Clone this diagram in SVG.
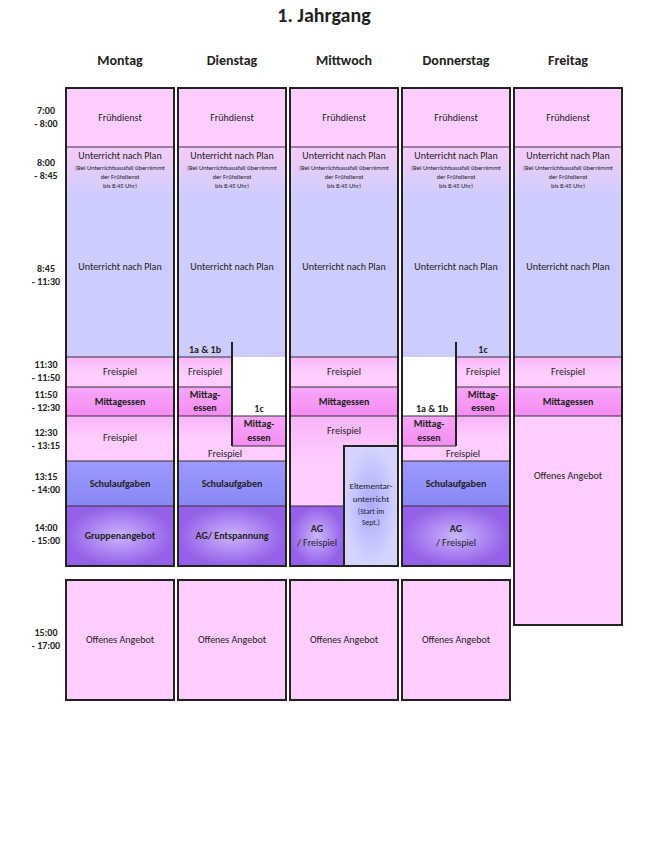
<svg xmlns="http://www.w3.org/2000/svg" width="648" height="854" viewBox="0 0 648 854">
<defs>
<linearGradient id="gU" x1="0" y1="0" x2="0" y2="1"><stop offset="0" stop-color="#f4ccf8"/><stop offset="0.25" stop-color="#ccccff"/><stop offset="1" stop-color="#ccccff"/></linearGradient>
<linearGradient id="gF" x1="0" y1="0" x2="0" y2="1"><stop offset="0" stop-color="#f8b4f8"/><stop offset="0.5" stop-color="#ffccff"/><stop offset="1" stop-color="#ffccff"/></linearGradient>
<linearGradient id="gM" x1="0" y1="0" x2="0" y2="1"><stop offset="0" stop-color="#f7a6f7"/><stop offset="1" stop-color="#f48cf4"/></linearGradient>
<radialGradient id="gA"><stop offset="0" stop-color="#c9b4ff"/><stop offset="1" stop-color="#9460e8"/></radialGradient>
<radialGradient id="gE"><stop offset="0" stop-color="#aaaaff"/><stop offset="1" stop-color="#d4d4ff"/></radialGradient>
<linearGradient id="gS" x1="0" y1="0" x2="0" y2="1"><stop offset="0" stop-color="#9a9aff"/><stop offset="1" stop-color="#8888f4"/></linearGradient>
</defs>
<style>
text{font-family:Calibri,"Liberation Sans","Open Sans",sans-serif;text-anchor:middle;fill:#222}
.h{font-size:14px;font-weight:bold}
.t{font-size:10px}
.tb{font-size:10px;font-weight:bold}
.s{font-size:6.5px}
.tm{font-size:10px;font-weight:bold}
.o{fill:none;stroke:#222;stroke-width:2}
.l{stroke:#333;stroke-width:1;fill:none}
.p{fill:#ffccff}.b{fill:url(#gU)}.m{fill:url(#gM)}.f{fill:url(#gF)}.sa{fill:url(#gS)}.a{fill:url(#gA)}
</style>
<rect width="648" height="854" fill="#fff"/>
<text x="324" y="22" style="font-size:20px;font-weight:bold">1. Jahrgang</text>
<g id="headers">
<text class="h" x="120" y="65">Montag</text><text class="h" x="232" y="65">Dienstag</text><text class="h" x="344" y="65">Mittwoch</text><text class="h" x="456" y="65">Donnerstag</text><text class="h" x="568" y="65">Freitag</text>
</g>
<g id="times" class="tm">
<text class="tm" x="46" y="114">7:00</text><text class="tm" x="46" y="127">- 8:00</text>
<text class="tm" x="46" y="166">8:00</text><text class="tm" x="46" y="179">- 8:45</text>
<text class="tm" x="46" y="272">8:45</text><text class="tm" x="46" y="285">- 11:30</text>
<text class="tm" x="46" y="368">11:30</text><text class="tm" x="46" y="381">- 11:50</text>
<text class="tm" x="46" y="398">11:50</text><text class="tm" x="46" y="411">- 12:30</text>
<text class="tm" x="46" y="436">12:30</text><text class="tm" x="46" y="449">- 13:15</text>
<text class="tm" x="46" y="480">13:15</text><text class="tm" x="46" y="493">- 14:00</text>
<text class="tm" x="46" y="531">14:00</text><text class="tm" x="46" y="544">- 15:00</text>
<text class="tm" x="46" y="636">15:00</text><text class="tm" x="46" y="649">- 17:00</text>
</g>
<!-- common top blocks for all 5 columns -->
<g id="top">
<rect class="p" x="66" y="88" width="108" height="59"/><rect class="p" x="178" y="88" width="108" height="59"/><rect class="p" x="290" y="88" width="108" height="59"/><rect class="p" x="402" y="88" width="108" height="59"/><rect class="p" x="514" y="88" width="108" height="59"/>
<rect class="b" x="66" y="147" width="108" height="210"/><rect class="b" x="178" y="147" width="108" height="210"/><rect class="b" x="290" y="147" width="108" height="210"/><rect class="b" x="402" y="147" width="108" height="210"/><rect class="b" x="514" y="147" width="108" height="210"/>
</g>
<g id="montag">
<rect class="f" x="66" y="357" width="108" height="30"/><rect class="m" x="66" y="387" width="108" height="29"/><rect class="f" x="66" y="416" width="108" height="45"/><rect class="sa" x="66" y="461" width="108" height="45"/><rect class="a" x="66" y="506" width="108" height="60"/>
<line class="l" x1="66" y1="147" x2="174" y2="147"/><line class="l" x1="66" y1="357" x2="174" y2="357"/><line class="l" x1="66" y1="387" x2="174" y2="387"/><line class="l" x1="66" y1="416" x2="174" y2="416"/><line class="l" x1="66" y1="461" x2="174" y2="461"/><line class="l" x1="66" y1="506" x2="174" y2="506"/>
<rect class="o" x="66" y="88" width="108" height="478"/>
<text class="t" x="120" y="121">Frühdienst</text><text class="t" x="120" y="159">Unterricht nach Plan</text><text class="s" x="120" y="170">(Bei Unterrichtsausfall übernimmt</text><text class="s" x="120" y="179">der Frühdienst</text><text class="s" x="120" y="188">bis 8:45 Uhr)</text>
<text class="t" x="120" y="270">Unterricht nach Plan</text><text class="t" x="120" y="375">Freispiel</text><text class="tb" x="120" y="405">Mittagessen</text><text class="t" x="120" y="441">Freispiel</text><text class="tb" x="120" y="487">Schulaufgaben</text><text class="tb" x="120" y="539">Gruppenangebot</text>
</g>
<g id="dienstag">
<rect class="f" x="178" y="357" width="54" height="30"/><rect class="m" x="178" y="387" width="54" height="29"/><rect class="f" x="178" y="416" width="108" height="45"/><rect class="m" x="232" y="416" width="54" height="30"/><rect class="sa" x="178" y="461" width="108" height="45"/><rect class="a" x="178" y="506" width="108" height="60"/>
<line class="l" x1="178" y1="147" x2="286" y2="147"/><line class="l" x1="178" y1="357" x2="232" y2="357"/><line class="l" x1="178" y1="387" x2="232" y2="387"/><line class="l" x1="178" y1="416" x2="286" y2="416"/><line class="l" x1="232" y1="446" x2="286" y2="446"/><line class="l" x1="178" y1="461" x2="286" y2="461"/><line class="l" x1="178" y1="506" x2="286" y2="506"/>
<line x1="232" y1="342" x2="232" y2="446" stroke="#222" stroke-width="2"/>
<rect class="o" x="178" y="88" width="108" height="478"/>
<text class="t" x="232" y="121">Frühdienst</text><text class="t" x="232" y="159">Unterricht nach Plan</text><text class="s" x="232" y="170">(Bei Unterrichtsausfall übernimmt</text><text class="s" x="232" y="179">der Frühdienst</text><text class="s" x="232" y="188">bis 8:45 Uhr)</text>
<text class="t" x="232" y="270">Unterricht nach Plan</text>
<text class="tb" x="205" y="353">1a &amp; 1b</text><text class="t" x="205" y="375">Freispiel</text><text class="tb" x="205" y="398">Mittag-</text><text class="tb" x="205" y="411">essen</text>
<text class="tb" x="259" y="412">1c</text><text class="tb" x="259" y="427">Mittag-</text><text class="tb" x="259" y="441">essen</text>
<text class="t" x="225" y="457">Freispiel</text><text class="tb" x="232" y="487">Schulaufgaben</text><text class="tb" x="232" y="539">AG/ Entspannung</text>
</g>
<g id="mittwoch">
<rect class="f" x="290" y="357" width="108" height="30"/><rect class="m" x="290" y="387" width="108" height="29"/><rect class="f" x="290" y="416" width="108" height="90"/><rect class="a" x="290" y="506" width="54" height="60"/><rect x="344" y="446" width="54" height="120" fill="url(#gE)" stroke="#222" stroke-width="2"/>
<line class="l" x1="290" y1="147" x2="398" y2="147"/><line class="l" x1="290" y1="357" x2="398" y2="357"/><line class="l" x1="290" y1="387" x2="398" y2="387"/><line class="l" x1="290" y1="416" x2="398" y2="416"/><line class="l" x1="290" y1="506" x2="344" y2="506"/>
<rect class="o" x="290" y="88" width="108" height="478"/>
<text class="t" x="344" y="121">Frühdienst</text><text class="t" x="344" y="159">Unterricht nach Plan</text><text class="s" x="344" y="170">(Bei Unterrichtsausfall übernimmt</text><text class="s" x="344" y="179">der Frühdienst</text><text class="s" x="344" y="188">bis 8:45 Uhr)</text>
<text class="t" x="344" y="270">Unterricht nach Plan</text><text class="t" x="344" y="375">Freispiel</text><text class="tb" x="344" y="405">Mittagessen</text><text class="t" x="344" y="434">Freispiel</text>
<text style="font-size:9px" x="371" y="489">Eltementar-</text><text style="font-size:9px" x="371" y="502">unterricht</text><text style="font-size:7.5px" x="371" y="514">(Start im</text><text style="font-size:7.5px" x="371" y="525">Sept.)</text>
<text class="tb" x="317" y="532">AG</text><text class="t" x="317" y="546">/ Freispiel</text>
</g>
<g id="donnerstag">
<rect class="f" x="456" y="357" width="54" height="30"/><rect class="m" x="456" y="387" width="54" height="29"/><rect class="f" x="402" y="416" width="108" height="45"/><rect class="m" x="402" y="416" width="54" height="30"/><rect class="sa" x="402" y="461" width="108" height="45"/><rect class="a" x="402" y="506" width="108" height="60"/>
<line class="l" x1="402" y1="147" x2="510" y2="147"/><line class="l" x1="456" y1="357" x2="510" y2="357"/><line class="l" x1="456" y1="387" x2="510" y2="387"/><line class="l" x1="402" y1="416" x2="510" y2="416"/><line class="l" x1="402" y1="446" x2="456" y2="446"/><line class="l" x1="402" y1="461" x2="510" y2="461"/><line class="l" x1="402" y1="506" x2="510" y2="506"/>
<line x1="456" y1="342" x2="456" y2="446" stroke="#222" stroke-width="2"/>
<rect class="o" x="402" y="88" width="108" height="478"/>
<text class="t" x="456" y="121">Frühdienst</text><text class="t" x="456" y="159">Unterricht nach Plan</text><text class="s" x="456" y="170">(Bei Unterrichtsausfall übernimmt</text><text class="s" x="456" y="179">der Frühdienst</text><text class="s" x="456" y="188">bis 8:45 Uhr)</text>
<text class="t" x="456" y="270">Unterricht nach Plan</text>
<text class="tb" x="483" y="353">1c</text><text class="t" x="483" y="375">Freispiel</text><text class="tb" x="483" y="398">Mittag-</text><text class="tb" x="483" y="411">essen</text>
<text class="tb" x="432" y="412">1a &amp; 1b</text><text class="tb" x="429" y="427">Mittag-</text><text class="tb" x="429" y="441">essen</text>
<text class="t" x="463" y="457">Freispiel</text><text class="tb" x="456" y="487">Schulaufgaben</text><text class="tb" x="456" y="532">AG</text><text class="t" x="456" y="546">/ Freispiel</text>
</g>
<g id="freitag">
<rect class="f" x="514" y="357" width="108" height="30"/><rect class="m" x="514" y="387" width="108" height="29"/><rect class="p" x="514" y="416" width="108" height="209"/>
<line class="l" x1="514" y1="147" x2="622" y2="147"/><line class="l" x1="514" y1="357" x2="622" y2="357"/><line class="l" x1="514" y1="387" x2="622" y2="387"/><line class="l" x1="514" y1="416" x2="622" y2="416"/>
<rect class="o" x="514" y="88" width="108" height="537"/>
<text class="t" x="568" y="121">Frühdienst</text><text class="t" x="568" y="159">Unterricht nach Plan</text><text class="s" x="568" y="170">(Bei Unterrichtsausfall übernimmt</text><text class="s" x="568" y="179">der Frühdienst</text><text class="s" x="568" y="188">bis 8:45 Uhr)</text>
<text class="t" x="568" y="270">Unterricht nach Plan</text><text class="t" x="568" y="375">Freispiel</text><text class="tb" x="568" y="405">Mittagessen</text><text class="t" x="568" y="479">Offenes Angebot</text>
</g>
<g id="offen">
<rect class="p o" style="fill:#ffccff" x="66" y="580" width="108" height="120"/><rect style="fill:#ffccff" class="o" x="178" y="580" width="108" height="120"/><rect style="fill:#ffccff" class="o" x="290" y="580" width="108" height="120"/><rect style="fill:#ffccff" class="o" x="402" y="580" width="108" height="120"/>
<text class="t" x="120" y="643">Offenes Angebot</text><text class="t" x="232" y="643">Offenes Angebot</text><text class="t" x="344" y="643">Offenes Angebot</text><text class="t" x="456" y="643">Offenes Angebot</text>
</g>
<g id="connectors"/>
</svg>
